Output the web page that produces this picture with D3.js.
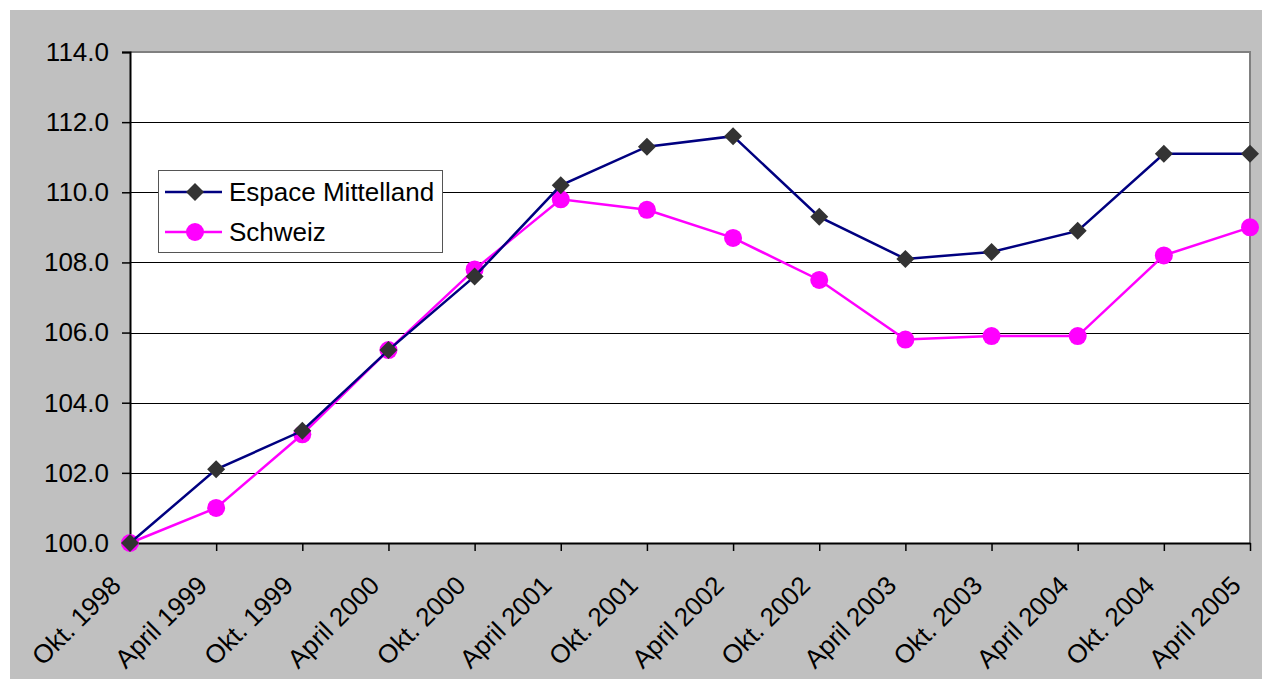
<!DOCTYPE html>
<html>
<head>
<meta charset="utf-8">
<script src="https://cdn.jsdelivr.net/npm/d3@7"></script>
<style>
  body { margin: 0; background: #fff; }
  svg { display: block; font-family: "Liberation Sans", Arial, sans-serif; }
</style>
</head>
<body>
<svg id="chart" width="1262" height="679"></svg>
<script>
var categories = ['Okt. 1998', 'April 1999', 'Okt. 1999', 'April 2000', 'Okt. 2000',
  'April 2001', 'Okt. 2001', 'April 2002', 'Okt. 2002', 'April 2003',
  'Okt. 2003', 'April 2004', 'Okt. 2004', 'April 2005'];
var espaceMittelland = [100.0, 102.1, 103.2, 105.5, 107.6, 110.2, 111.3, 111.6,
  109.3, 108.1, 108.3, 108.9, 111.1, 111.1];
var schweiz = [100.0, 101.0, 103.1, 105.5, 107.8, 109.8, 109.5, 108.7,
  107.5, 105.8, 105.9, 105.9, 108.2, 109.0];
var yTicks = [100, 102, 104, 106, 108, 110, 112, 114];

var svg = d3.select('#chart');
var plot = { left: 130, top: 52, right: 1250, bottom: 543 };
var fontSize = 26;

// gray chart area
svg.append('rect').attr('x', 10).attr('y', 10).attr('width', 1252).attr('height', 669)
  .attr('fill', '#c0c0c0');
svg.append('rect').attr('x', plot.left).attr('y', plot.top)
  .attr('width', plot.right - plot.left).attr('height', plot.bottom - plot.top)
  .attr('fill', '#fff');

var x = d3.scalePoint().domain(categories).range([plot.left, plot.right]);
var y = d3.scaleLinear().domain([100, 114]).range([plot.bottom, plot.top]);

// gridlines
svg.append('g').selectAll('line').data(yTicks.slice(1, -1)).enter().append('line')
  .attr('x1', plot.left).attr('x2', plot.right)
  .attr('y1', function(d) { return Math.round(y(d)) + 0.5; })
  .attr('y2', function(d) { return Math.round(y(d)) + 0.5; })
  .attr('stroke', '#000').attr('stroke-width', 1);

// plot border top/right
svg.append('path')
  .attr('d', 'M' + plot.left + ',' + plot.top + 'H' + plot.right + 'V' + plot.bottom)
  .attr('fill', 'none').attr('stroke', '#808080').attr('stroke-width', 2);

// y axis
var yAxis = d3.axisLeft(y).tickValues(yTicks).tickSize(8).tickPadding(13)
  .tickFormat(d3.format('.1f'));
var yg = svg.append('g').attr('transform', 'translate(' + plot.left + ',0)').call(yAxis);
yg.select('.domain').attr('stroke', '#000').attr('stroke-width', 2);
yg.selectAll('.tick line').attr('stroke', '#000').attr('stroke-width', 1.5);
yg.selectAll('text').attr('font-size', fontSize).attr('fill', '#000')
  .attr('font-family', '"Liberation Sans", Arial, sans-serif');

// x axis
var xAxis = d3.axisBottom(x).tickSize(8).tickSizeOuter(0);
var xg = svg.append('g').attr('transform', 'translate(0,' + plot.bottom + ')').call(xAxis);
xg.select('.domain').attr('stroke', '#000').attr('stroke-width', 2);
xg.selectAll('.tick line').attr('stroke', '#000').attr('stroke-width', 1.5);
xg.selectAll('text').attr('font-size', fontSize).attr('fill', '#000')
  .attr('font-family', '"Liberation Sans", Arial, sans-serif')
  .attr('text-anchor', 'end').attr('dy', 0).attr('y', 0)
  .attr('transform', 'translate(-8,44) rotate(-45)');

var line = d3.line()
  .x(function(d, i) { return x(categories[i]); })
  .y(function(d) { return y(d); });

// Schweiz
svg.append('path').datum(schweiz).attr('d', line)
  .attr('fill', 'none').attr('stroke', '#ff00ff').attr('stroke-width', 2.5);
svg.append('g').selectAll('circle').data(schweiz).enter().append('circle')
  .attr('cx', function(d, i) { return x(categories[i]); })
  .attr('cy', function(d) { return y(d); })
  .attr('r', 9).attr('fill', '#ff00ff');

// Espace Mittelland
svg.append('path').datum(espaceMittelland).attr('d', line)
  .attr('fill', 'none').attr('stroke', '#000080').attr('stroke-width', 2.5);
var diamond = 'M0,-9L9,0L0,9L-9,0Z';
svg.append('g').selectAll('path').data(espaceMittelland).enter().append('path')
  .attr('d', diamond)
  .attr('transform', function(d, i) { return 'translate(' + x(categories[i]) + ',' + y(d) + ')'; })
  .attr('fill', '#333333');

// legend
var legend = svg.append('g').attr('transform', 'translate(158,170)');
legend.append('rect').attr('x', 0.5).attr('y', 0.5).attr('width', 284).attr('height', 82)
  .attr('fill', '#fff').attr('stroke', '#555').attr('stroke-width', 1);
var entries = [
  { name: 'Espace Mittelland', color: '#000080', marker: 'diamond' },
  { name: 'Schweiz', color: '#ff00ff', marker: 'circle' }
];
entries.forEach(function(e, i) {
  var cy = 22 + i * 40;
  legend.append('line').attr('x1', 7).attr('x2', 64).attr('y1', cy).attr('y2', cy)
    .attr('stroke', e.color).attr('stroke-width', 2.5);
  if (e.marker === 'diamond') {
    legend.append('path').attr('d', diamond)
      .attr('transform', 'translate(37,' + cy + ')').attr('fill', '#333333');
  } else {
    legend.append('circle').attr('cx', 37).attr('cy', cy).attr('r', 9).attr('fill', '#ff00ff');
  }
  legend.append('text').attr('x', 71).attr('y', cy).attr('dy', '0.35em')
    .attr('font-size', fontSize).attr('fill', '#000').text(e.name);
});
</script>
</body>
</html>
